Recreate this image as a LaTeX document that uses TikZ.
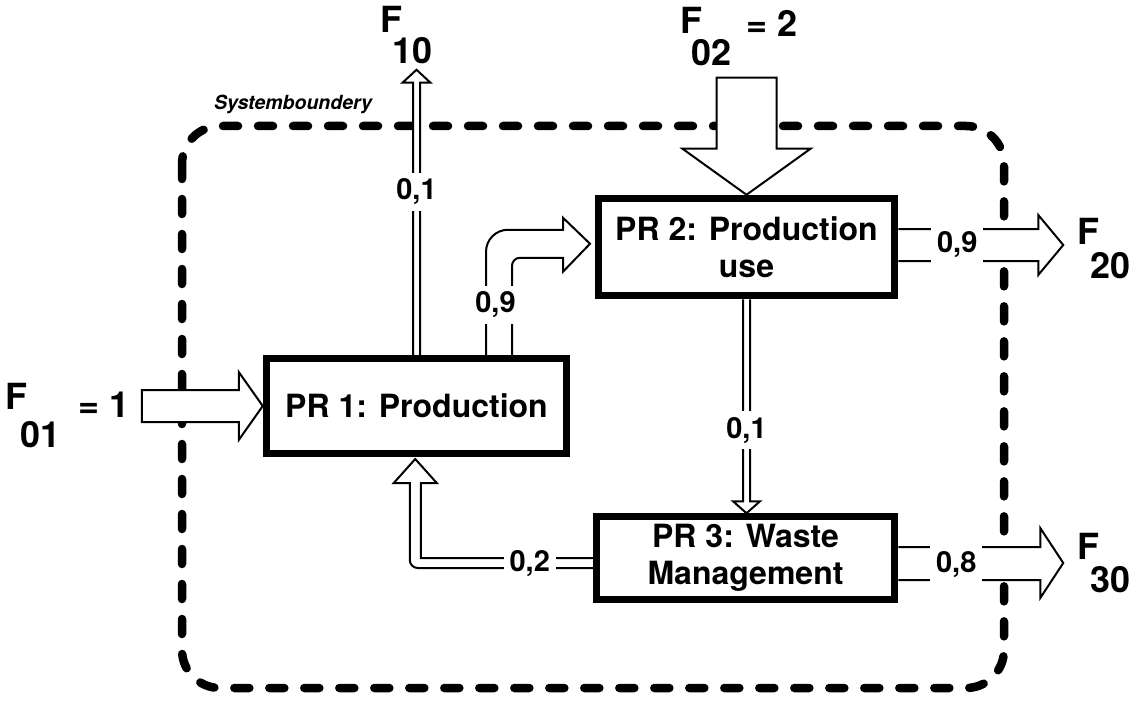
\documentclass[tikz,border=0pt]{standalone}
\usepackage{fontspec}
\setmainfont{TeX Gyre Heros}
\usetikzlibrary{calc}
\tikzset{
  prbox/.style={draw=black,fill=white,line width=7.5pt,align=center,
    font=\fontsize{32}{37}\selectfont\bfseries},
  pipe/.style={draw=black,fill=white,line width=2pt,line join=miter},
  flowval/.style={fill=white,inner sep=6pt,font=\fontsize{29}{30}\selectfont\bfseries},
  flowname/.style={inner sep=0pt,anchor=base west,font=\fontsize{36}{40}\selectfont\bfseries},
  boundary/.style={line width=8.5pt,dash pattern=on 15pt off 20pt,line cap=round,rounded corners=38pt}
}

\begin{document}
\begin{tikzpicture}[x=1pt,y=-1pt]
  \useasboundingbox (0,0) rectangle (1137,722);
  % system boundary
  \draw[boundary] (182,126) rectangle (1004,688);
  \node[font=\fontsize{19.5}{22}\selectfont\bfseries\itshape] (sbtext) at (293,104) {Systemboundery};

  % processes
  \node[prbox,minimum width=300pt,minimum height=95pt] (pr1) at (416.5,406) {PR 1: Production};
  \node[prbox,minimum width=296pt,minimum height=97pt] (pr2) at (746.5,247) {PR 2: Production\\use};
  \node[prbox,minimum width=298pt,minimum height=83pt] (pr3) at (745.5,558) {PR 3: Waste\\Management};

  % inflows
  \draw[pipe,shift={(pr1.west)}] (-121,-16) -- (-24,-16) -- (-24,-34) -- (0,0) -- (-24,34) -- (-24,16) -- (-121,16) -- cycle;
  \draw[pipe,shift={(pr2.north)}] (-30,-117) -- (30,-117) -- (30,-46) -- (64,-46) -- (0,0) -- (-64,-46) -- (-30,-46) -- cycle;

  % flows between processes
  \draw[pipe,shift={(pr1.north)}] (-3.5,0) -- (-3.5,-272) -- (-14,-272) -- (0,-285) -- (14,-272) -- (3.5,-272) -- (3.5,0);
  \draw[pipe,shift={(pr1.north)}] (69.5,0) -- (69.5,-103) arc[start angle=180,end angle=270,radius=22]
    -- (146.5,-125) -- (146.5,-137) -- (173.5,-111) -- (146.5,-83) -- (146.5,-97) -- (103.5,-97)
    arc[start angle=270,end angle=180,radius=8] -- (95.5,0);
  \draw[pipe,shift={(pr2.south)}] (-3.5,0) -- (-3.5,202) -- (-13.5,202) -- (0,214) -- (13.5,202) -- (3.5,202) -- (3.5,0);
  \draw[pipe,shift={(pr3.west)}] (0,0) -- (-172,0) -- (-172,-75) -- (-156,-75) -- (-177.5,-99) -- (-199,-75) -- (-183,-75)
    -- (-183,2) arc[start angle=180,end angle=90,radius=8] -- (-175,10) -- (0,10);

  % outflows
  \draw[pipe,shift={(pr2.east)}] (0,-18) -- (140,-18) -- (140,-32) -- (165,-2) -- (140,28) -- (140,14) -- (0,14);
  \draw[pipe,shift={(pr3.east)}] (0,-11) -- (142,-11) -- (142,-30) -- (165,5) -- (142,40) -- (142,22) -- (0,22);

  % transfer coefficients
  \node[flowval] (v10) at ($(pr1.north)+(0,-163)$) {0,1};
  \node[flowval] (v12) at ($(pr1.north)+(79,-50)$) {0,9};
  \node[flowval] (v23) at ($(pr2.south)+(0,131)$) {0,1};
  \node[flowval] (v31) at ($(pr3.west)+(-63,6)$) {0,2};
  \node[flowval] (v20) at ($(pr2.east)+(59,-2)$) {0,9};
  \node[flowval] (v30) at ($(pr3.east)+(58,7)$) {0,8};

  % flow names
  \node[flowname] (f01) at (5,409) {F};
  \node[flowname] (f01sub) at (20,447) {01};
  \node[flowname] (f01val) at (78,417) {= 1};
  \node[flowname] (f02) at (680,34) {F};
  \node[flowname] (f02sub) at (691,66) {02};
  \node[flowname] (f02val) at (746,37) {= 2};
  \node[flowname] (f10) at (380,33) {F};
  \node[flowname] (f10sub) at (392,64) {10};
  \node[flowname] (f20) at (1077,244) {F};
  \node[flowname] (f20sub) at (1090,278) {20};
  \node[flowname] (f30) at (1077,559) {F};
  \node[flowname] (f30sub) at (1090,592) {30};
\end{tikzpicture}
\end{document}
